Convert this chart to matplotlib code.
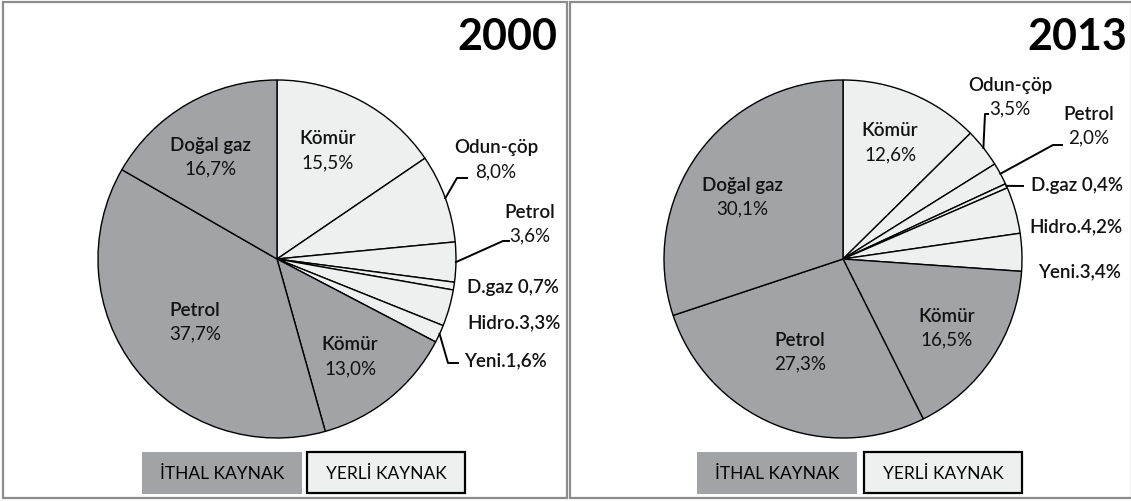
import matplotlib
matplotlib.use("Agg")
import matplotlib.pyplot as plt
from matplotlib.patches import Rectangle
import numpy as np

plt.rcParams['font.family'] = ['Lato', 'DejaVu Sans']

# slice order: domestic (yerli) first, then imported (ithal), clockwise from 12 o'clock
names = ["Kömür", "Odun-çöp", "Petrol", "D.gaz", "Hidro.", "Yeni.", "Kömür", "Petrol", "Doğal gaz"]
source = ["yerli"] * 6 + ["ithal"] * 3
values_2000 = [15.5, 8.0, 3.6, 0.7, 3.3, 1.6, 13.0, 37.7, 16.7]
values_2013 = [12.6, 3.5, 2.0, 0.4, 4.2, 3.4, 16.5, 27.3, 30.1]
years = ["2000", "2013"]
legend_labels = ["İTHAL KAYNAK", "YERLİ KAYNAK"]

DARK = "#a1a3a6"
LIGHT = "#eeefef"
W, H = 1131, 501

# label layout in pixels: (kind, x, y, leader elbow points)
layout_2000 = [
    ("in", 328, 151, None),
    ("out2", 496, 160, [(457, 178), (467, 178)]),
    ("out2", 530, 224, [(503, 241), (509, 241)]),
    ("out1", 513, 288, None),
    ("out1", 514, 323, None),
    ("out1", 505, 361, [(448, 363), (458, 363)]),
    ("in", 350, 357, None),
    ("in", 195, 322, None),
    ("in", 210, 157, None),
]
layout_2013 = [
    ("in", 890, 143, None),
    ("out2", 1010, 97, [(985, 114), (988, 114)]),
    ("out2", 1089, 126, [(1053, 145), (1062, 145)]),
    ("out1", 1077, 186, [(1023, 186)]),
    ("out1", 1076, 227, None),
    ("out1", 1080, 272, None),
    ("in", 890 + 57, 328, None),
    ("in", 800, 352, None),
    ("in", 742, 197, None),
]

fig = plt.figure(figsize=(W / 100, H / 100), dpi=100)
bg = fig.add_axes([0, 0, 1, 1])
bg.set_xlim(0, W)
bg.set_ylim(H, 0)
bg.axis("off")

# panel frames
for x0, x1 in [(3, 567), (570, 1132)]:
    bg.add_patch(Rectangle((x0, 2), x1 - x0, 496, fill=False, edgecolor="#8c8c8c", lw=1.6))


def fmt(v):
    return f"{v:.1f}".replace(".", ",") + "%"


def draw_panel(values, layout, year, cx, cy, R, title_x, legend_x):
    ax = fig.add_axes([(cx - R) / W, (H - cy - R) / H, 2 * R / W, 2 * R / H])
    colors = [LIGHT if s == "yerli" else DARK for s in source]
    wedges, _ = ax.pie(values, colors=colors, startangle=90, counterclock=False,
                       wedgeprops=dict(edgecolor="black", linewidth=1.0))
    ax.set_aspect("auto")
    ax.set_xlim(-1, 1)
    ax.set_ylim(-1, 1)

    def px(x, y):
        return (x - cx) / R, (cy - y) / R

    dy = 12 / R
    fs = 13.5
    for w, name, v, (kind, lx, ly, elbow) in zip(wedges, names, values, layout):
        x, y = px(lx, ly)
        if kind in ("in", "out2"):
            ax.text(x, y + dy, name, ha="center", va="center", fontsize=fs,
                    fontweight="semibold", color="#111111", clip_on=False)
            ax.text(x, y - dy, fmt(v), ha="center", va="center", fontsize=fs,
                    color="#111111", clip_on=False)
        else:
            sep = "" if name.endswith(".") else " "
            ax.text(x, y, name + sep + fmt(v), ha="center", va="center", fontsize=fs,
                    fontweight="semibold", color="#111111", clip_on=False)
        if elbow:
            mid = np.deg2rad((w.theta1 + w.theta2) / 2)
            pts = [(np.cos(mid), np.sin(mid))] + [px(ex, ey) for ex, ey in elbow]
            ax.plot([p[0] for p in pts], [p[1] for p in pts], color="black",
                    lw=1.4, clip_on=False)

    bg.text(title_x, 37, year, ha="right", va="center", fontsize=31,
            fontweight="bold", color="black")

    # legend boxes
    gx, wx = legend_x
    bg.add_patch(Rectangle((gx, 452), 160, 42, facecolor=DARK, edgecolor="none"))
    bg.add_patch(Rectangle((wx, 452), 158, 41, facecolor=LIGHT, edgecolor="black", lw=1.6))
    bg.text(gx + 80, 474, legend_labels[0], ha="center", va="center", fontsize=12.5)
    bg.text(wx + 79, 474, legend_labels[1], ha="center", va="center", fontsize=12.5)


draw_panel(values_2000, layout_2000, years[0], 277, 259, 179, 557, (142, 307))
draw_panel(values_2013, layout_2013, years[1], 843, 259, 179, 1127, (697, 864))

fig.savefig("out.png", dpi=100)
